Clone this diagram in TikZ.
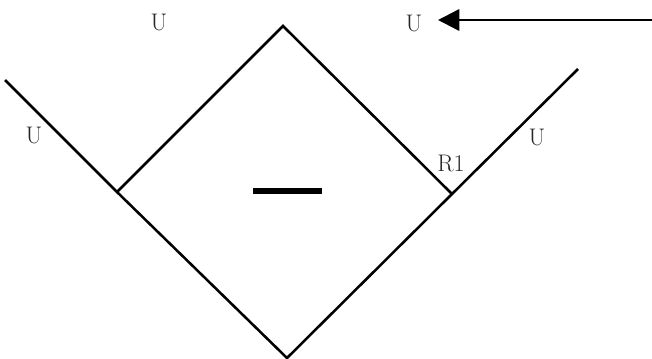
\documentclass[tikz,border=0pt]{standalone}
\usetikzlibrary{arrows.meta}
\tikzset{px/.style={x=0.75pt,y=-0.75pt},
 wire/.style={line width=1.9pt,black},
 lab/.style={font=\fontsize{18}{20}\selectfont,inner sep=0pt,text=black!85}}
\begin{document}
\begin{tikzpicture}[px]
\useasboundingbox (0,0) rectangle (652,358);
\coordinate (top) at (283,26);
\coordinate (left) at (117,192);
\coordinate (right) at (452,194);
\coordinate (bot) at (287,358);
\coordinate (lend) at (5,80);
\coordinate (rend) at (578,69);
\coordinate (astart) at (652,20);
\coordinate (aend) at (438,20);
\coordinate (ma) at (253,191);
\coordinate (mb) at (322,191);
\draw[wire] (lend) -- (left) -- (bot) -- (right) -- (rend);
\draw[wire] (left) -- (top) -- (right);
\draw[line width=4pt,black] (ma) -- (mb);
\draw[wire,-{Triangle[length=16pt,width=16pt]}] (astart) -- (aend);
\node[lab] (u1) at (159,22) {U};
\node[lab] (u2) at (414,23) {U};
\node[lab] (u3) at (34,135) {U};
\node[lab] (u4) at (537,137) {U};
\node[lab] (r1) at (451,163) {R1};
\end{tikzpicture}
\end{document}
